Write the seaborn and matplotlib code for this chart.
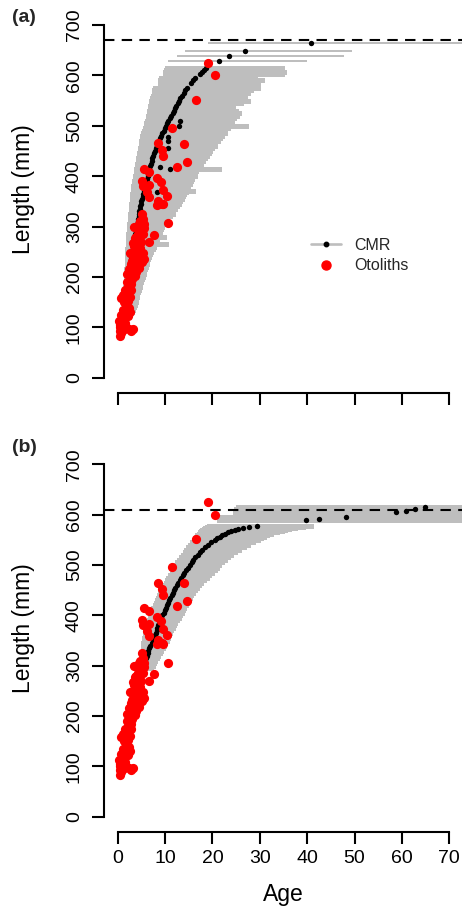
import matplotlib
matplotlib.use("Agg")
import matplotlib.pyplot as plt
from matplotlib.lines import Line2D
import numpy as np
import pandas as pd
import seaborn as sns

sns.set_theme(style="ticks")
plt.rcParams["font.family"] = ["Liberation Sans", "DejaVu Sans"]

# ---------------------------------------------------------------------------
# Otolith readings (age in years, total length in mm) - same in both panels
oto_age = [19.1, 20.5, 16.5, 11.5, 8.6, 14.1, 9.4, 9.6, 12.6, 14.6, 5.6, 6.7,
           5.1, 5.4, 6.7, 6.1, 6.7, 8.2, 9.2, 9.5, 10.5, 8.6, 9.6, 8.2, 9.3,
           10.6, 7.6, 6.6,
           5.2, 5.4, 5.6, 5.5, 4.0, 4.5, 4.9, 4.2, 3.7, 5.3, 4.6, 4.0, 3.5,
           4.8, 4.2, 3.3, 5.6, 5.2, 4.0, 3.0, 2.8, 3.6, 4.5, 3.9, 3.0, 3.7,
           2.6, 3.1, 2.5, 2.9, 2.2, 2.4, 2.0, 1.5, 0.6, 1.2, 2.1, 1.8, 2.3,
           1.6, 2.1, 0.6, 1.0, 1.5, 0.5, 0.8, 3.2, 2.4, 0.4, 0.6, 0.5, 1.1,
           0.3,
           3.4, 4.8, 4.4, 3.9, 5.0, 4.4, 3.8, 5.3, 4.6, 3.6, 2.4, 3.3, 2.0,
           2.8, 1.6, 2.6, 1.3, 2.6, 1.1, 0.4, 1.8, 2.8, 4.1, 3.2, 2.7, 1.9]
oto_len = [625, 600, 552, 496, 465, 464, 452, 440, 419, 428, 415, 409,
           391, 381, 383, 368, 359, 397, 389, 373, 361, 351, 344, 343, 345,
           306, 283, 270,
           325, 315, 305, 298, 300, 305, 292, 286, 278, 285, 275, 265, 262,
           258, 250, 245, 236, 230, 240, 232, 225, 222, 218, 210, 212, 202,
           200, 195, 190, 185, 180, 172, 168, 160, 158, 165, 152, 145, 138,
           130, 122, 124, 115, 108, 105, 98, 96, 97, 92, 88, 82, 95,
           112,
           300, 310, 295, 280, 270, 262, 255, 248, 242, 238, 215, 205, 190,
           175, 175, 160, 150, 130, 135, 100, 100, 93, 228, 268, 248, 205]

# ---------------------------------------------------------------------------
# (a) CMR estimates: length, estimated age and the age interval (lower, upper)
cmr_a_len = [120, 125, 130, 135, 140, 145, 150, 155, 160, 165, 170, 175, 180,
             185, 190, 195, 200, 205, 210, 215, 220, 225, 230, 235, 240, 245,
             250, 255, 260, 265, 270, 275, 280, 285, 290, 295, 300, 305, 310,
             315, 320, 325, 330, 335, 340, 345, 350, 355, 360, 365, 370, 375,
             380, 385, 390, 395, 400, 405, 410, 415, 420, 425, 430, 435, 440,
             445, 450, 455, 460, 465, 470, 475, 480, 485, 490, 495, 500, 505,
             510, 515, 520, 525, 530, 535, 540, 545, 550, 555, 560, 565, 570,
             575,
             510, 500, 478, 470, 455, 445, 414, 419, 369,
             585, 590, 595, 603, 607, 611, 615, 629, 639, 649, 665]
cmr_a_age = [1.2, 1.3, 1.3, 1.4, 1.5, 1.5, 1.6, 1.7, 1.7, 1.8, 1.9, 1.9, 2.0,
             2.1, 2.1, 2.2, 2.3, 2.4, 2.4, 2.5, 2.6, 2.7, 2.7, 2.8, 2.9, 3.0,
             3.1, 3.2, 3.2, 3.3, 3.4, 3.5, 3.6, 3.7, 3.8, 3.9, 4.0, 4.1, 4.2,
             4.3, 4.4, 4.5, 4.6, 4.7, 4.8, 4.9, 5.0, 5.1, 5.3, 5.4, 5.5, 5.6,
             5.8, 5.9, 6.0, 6.2, 6.3, 6.4, 6.6, 6.7, 6.9, 7.0, 7.2, 7.3, 7.5,
             7.7, 7.9, 8.1, 8.3, 8.5, 8.7, 8.9, 9.2, 9.4, 9.7, 9.9, 10.1, 10.4,
             10.7, 11.0, 11.3, 11.6, 11.8, 12.1, 12.4, 12.7, 13.0, 13.2, 13.6,
             13.9, 14.2, 14.6,
             13.1, 13.0, 10.7, 10.7, 10.7, 9.6, 11.0, 8.9, 8.4,
             15.4, 15.9, 16.4, 17.3, 17.7, 18.2, 18.6, 21.4, 23.6, 26.9, 40.8]
cmr_a_lo = [1.0, 1.0, 1.0, 1.05, 1.05, 1.1, 1.1, 1.1, 1.15, 1.15, 1.2, 1.2,
            1.2, 1.25, 1.25, 1.3, 1.3, 1.35, 1.4, 1.4, 1.45, 1.5, 1.5, 1.55,
            1.55, 1.6, 1.6, 1.65, 1.7, 1.7, 1.75, 1.8, 1.8, 1.85, 1.9, 1.95,
            2.0, 2.05, 2.1, 2.15, 2.2, 2.25, 2.3, 2.35, 2.4, 2.45, 2.5, 2.55,
            2.6, 2.7, 2.8, 2.85, 2.9, 3.0, 3.1, 3.15, 3.25, 3.35, 3.4, 3.5,
            3.6, 3.7, 3.8, 3.9, 4.0, 4.1, 4.2, 4.3, 4.4, 4.5, 4.6, 4.7, 4.8,
            4.95, 5.1, 5.3, 5.45, 5.6, 5.8, 5.9, 6.0, 6.1, 6.2, 6.35, 6.45,
            6.6, 6.7, 6.85, 7.0, 7.15, 7.3, 7.5,
            5.8, 5.5, 4.8, 4.6, 4.3, 4.1, 3.5, 3.6, 2.8,
            8.6, 8.6, 8.8, 9.5, 9.6, 9.8, 10.0, 10.7, 12.5, 14.2, 19.1]
cmr_a_hi = [2.9, 3.1, 3.4, 3.6, 3.8, 4.0, 4.2, 4.3, 4.5, 4.6, 4.8, 4.9, 5.1,
            5.2, 5.4, 5.6, 5.7, 5.9, 6.0, 6.2, 6.4, 6.6, 6.7, 6.9, 7.1, 7.3,
            7.5, 7.8, 8.0, 10.7, 8.5, 8.8, 10.3, 9.3, 9.4, 9.5, 9.7, 10.1,
            10.5, 10.9, 11.5, 12.0, 12.2, 12.6, 12.9, 13.3, 13.6, 13.9, 14.2,
            14.5, 16.3, 15.0, 15.3, 15.6, 15.9, 16.2, 16.7, 16.5, 17.0, 21.9,
            17.8, 18.0, 18.5, 18.8, 19.2, 19.6, 20.0, 20.3, 20.9, 20.5, 21.5,
            22.0, 22.4, 23.0, 22.6, 23.8, 27.6, 24.0, 24.6, 25.0, 25.6, 26.0,
            25.3, 24.4, 24.8, 26.5, 27.9, 26.8, 27.2, 27.9, 28.6, 30.0,
            24.6, 23.8, 22.0, 21.5, 20.3, 19.6, 17.5, 17.8, 14.8,
            30.0, 30.8, 29.5, 35.0, 35.5, 34.0, 35.0, 39.9, 47.8, 49.4, 110.0]

# (b) CMR estimates from the second model
cmr_b_len = [295, 300, 305, 310, 315, 320, 325, 330, 335, 340, 345, 350, 355,
             360, 365, 370, 375, 380, 385, 390, 395, 400, 405, 410, 415, 420,
             425, 430, 435, 440, 445, 450, 455, 460, 465, 470, 475, 480, 485,
             490, 495, 500, 505, 510, 515, 520, 525, 530, 535, 540, 545, 550,
             553, 556, 559, 562, 565, 568, 570, 572, 574, 576, 578,
             589, 591, 596, 605, 608, 611, 616]
cmr_b_age = [5.3, 5.5, 5.7, 5.8, 6.0, 6.1, 6.3, 6.5, 6.7, 6.9, 7.2, 7.4, 7.6,
             7.8, 8.0, 8.2, 8.4, 8.6, 8.8, 9.0, 9.2, 9.4, 9.7, 9.9, 10.1, 10.4,
             10.6, 10.9, 11.1, 11.4, 11.6, 11.9, 12.2, 12.5, 12.8, 13.1, 13.4,
             13.7, 14.0, 14.4, 14.8, 15.2, 15.6, 16.0, 16.4, 16.9, 17.4, 17.9,
             18.5, 19.1, 19.8, 20.5, 21.0, 21.5, 22.0, 22.6, 23.3, 24.0, 24.8,
             25.5, 26.5, 27.8, 29.3,
             39.7, 42.5, 48.1, 58.7, 60.8, 62.7, 64.8]
cmr_b_lo = [5.0, 5.0, 5.0, 5.0, 5.0, 5.0, 5.0, 5.0, 5.0, 5.0, 5.0, 5.1, 5.2,
            5.3, 5.4, 5.6, 5.7, 5.9, 6.0, 6.2, 6.4, 6.6, 6.7, 6.9, 7.1, 7.4,
            7.6, 7.8, 8.0, 8.3, 8.5, 8.8, 9.1, 9.4, 9.7, 10.0, 10.3, 10.6,
            11.0, 11.3, 11.6, 11.9, 12.2, 12.6, 12.9, 13.3, 13.7, 14.1, 14.5,
            14.9, 15.3, 15.7, 16.0, 16.2, 16.4, 16.7, 17.0, 17.2, 17.4, 17.7,
            18.0, 18.4, 18.8,
            20.9, 20.9, 21.5, 24.4, 24.4, 24.6, 25.0]
cmr_b_hi = [7.5, 7.8, 8.1, 8.4, 8.7, 9.0, 9.3, 9.6, 9.9, 10.2, 10.5, 10.8,
            11.0, 11.3, 11.5, 11.7, 12.0, 12.3, 12.6, 13.0, 13.3, 13.6, 13.9,
            14.2, 14.5, 14.8, 15.0, 15.3, 15.6, 15.9, 16.3, 16.8, 17.2, 17.6,
            18.1, 18.6, 19.2, 19.8, 20.4, 21.0, 21.4, 21.8, 22.4, 23.0, 23.7,
            24.4, 25.2, 26.0, 27.0, 28.0, 29.0, 30.0, 30.6, 31.3, 32.0, 32.8,
            34.0, 35.0, 35.7, 36.6, 37.8, 39.5, 41.3,
            110.0, 110.0, 110.0, 110.0, 110.0, 110.0, 110.0]

# asymptotic lengths of the two models
linf_a = 670
linf_b = 610

x_ticks = [0, 10, 20, 30, 40, 50, 60, 70]
y_ticks = [0, 100, 200, 300, 400, 500, 600, 700]

GREY = "#BEBEBE"
oto_df = pd.DataFrame({"age": oto_age, "length": oto_len})

fig = plt.figure(figsize=(4.62, 9.08), dpi=100)
ax_a = fig.add_axes([0.226, 0.5674, 0.7753, 0.4495])
ax_b = fig.add_axes([0.226, 0.0839, 0.7753, 0.4491])


def interval_widths(L):
    """Thick strokes where intervals pile up into a band, thin when isolated."""
    arr = np.asarray(L, dtype=float)
    widths = []
    for i, v in enumerate(arr):
        others = np.delete(arr, i)
        gap = np.min(np.abs(others - v))
        widths.append(2.5 if gap < 8 else 1.4)
    return widths


def draw_panel(ax, L, age, lo, hi, linf, show_x):
    ax.hlines(L, lo, hi, colors=GREY, linewidths=interval_widths(L),
              zorder=1, antialiased=False)
    ax.axhline(linf, color="black", lw=1.5, ls=(0, (5, 3.5)), zorder=2)
    cmr_df = pd.DataFrame({"age": age, "length": L})
    sns.scatterplot(data=cmr_df, x="age", y="length", ax=ax, color="black",
                    s=15, linewidth=0, zorder=3, legend=False)
    sns.scatterplot(data=oto_df, x="age", y="length", ax=ax, color="red",
                    s=44, linewidth=0, zorder=4, legend=False)

    ax.set_xlim(-2.8, 72.8)
    ax.set_ylim(-30, 780)
    ax.set_xticks(x_ticks)
    ax.set_yticks(y_ticks)
    ax.set_yticklabels([str(v) for v in y_ticks], rotation=90, va="center")
    for s in ("top", "right"):
        ax.spines[s].set_visible(False)
    ax.spines["left"].set_bounds(0, 700)
    ax.spines["bottom"].set_bounds(0, 70)
    for s in ("left", "bottom"):
        ax.spines[s].set_linewidth(1.5)
        ax.spines[s].set_color("black")
    ax.tick_params(axis="both", direction="out", length=8.5, width=1.5,
                   color="black", labelsize=14, labelcolor="black")
    ax.tick_params(axis="y", pad=7)
    ax.tick_params(axis="x", pad=4.5)

    ax.set_ylabel("Length (mm)", fontsize=16.5, color="black")
    ax.yaxis.label.set_verticalalignment("center")
    ax.yaxis.set_label_coords(-0.227, 0.5)
    if show_x:
        ax.set_xlabel("Age", fontsize=16.5, color="black")
        ax.xaxis.label.set_verticalalignment("center")
        ax.xaxis.set_label_coords(0.5, -0.1525)
    else:
        ax.set_xlabel("")
        ax.tick_params(axis="x", labelbottom=False)
    ax.grid(False)


draw_panel(ax_a, cmr_a_len, cmr_a_age, cmr_a_lo, cmr_a_hi, linf_a, False)
draw_panel(ax_b, cmr_b_len, cmr_b_age, cmr_b_lo, cmr_b_hi, linf_b, True)

handles = [
    Line2D([0], [0], color=GREY, lw=1.9, marker="o", markersize=3.2,
           markerfacecolor="black", markeredgecolor="black"),
    Line2D([0], [0], ls="none", marker="o", markersize=6.5,
           markerfacecolor="red", markeredgecolor="red"),
]
ax_a.legend(handles, ["CMR", "Otoliths"], loc="center left",
            bbox_to_anchor=(0.577, 0.3367), frameon=False, fontsize=11.5,
            handlelength=1.9, handletextpad=0.8, borderpad=0,
            borderaxespad=0, labelspacing=0.35)

fig.text(24 / 462, 1 - 17 / 908, "(a)", fontsize=14, fontweight="bold",
         ha="center", va="center")
fig.text(24 / 462, 1 - 447 / 908, "(b)", fontsize=14, fontweight="bold",
         ha="center", va="center")

fig.savefig("out.png", dpi=100, facecolor="white")
